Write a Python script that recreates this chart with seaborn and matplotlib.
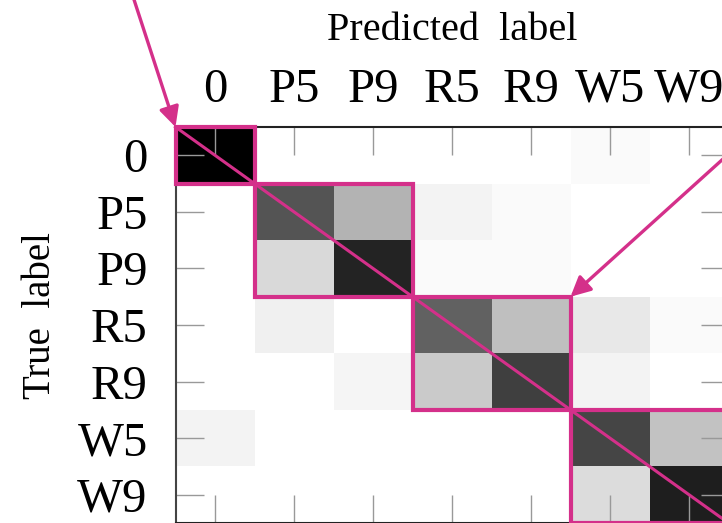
import numpy as np
import pandas as pd
import matplotlib
matplotlib.use("Agg")
import matplotlib.pyplot as plt
import seaborn as sns
from matplotlib.patches import Rectangle

plt.rcParams['font.family'] = ['Liberation Serif', 'DejaVu Serif']

labels = ['0', 'P5', 'P9', 'R5', 'R9', 'W5', 'W9']
row_0  = [1.00, 0.00, 0.00, 0.00, 0.00, 0.02, 0.00]
row_P5 = [0.00, 0.67, 0.30, 0.05, 0.02, 0.00, 0.00]
row_P9 = [0.00, 0.15, 0.86, 0.02, 0.02, 0.00, 0.00]
row_R5 = [0.00, 0.06, 0.00, 0.62, 0.25, 0.09, 0.02]
row_R9 = [0.00, 0.00, 0.04, 0.21, 0.75, 0.05, 0.00]
row_W5 = [0.05, 0.00, 0.00, 0.00, 0.00, 0.73, 0.24]
row_W9 = [0.00, 0.00, 0.00, 0.00, 0.00, 0.14, 0.88]
groups = [(0, 1), (1, 3), (3, 5), (5, 7)]

cm = pd.DataFrame([row_0, row_P5, row_P9, row_R5, row_R9, row_W5, row_W9],
                  index=labels, columns=labels)

pink = '#D4308A'

fig = plt.figure(figsize=(7.22, 5.23), dpi=100)
ax = fig.add_axes([175.5 / 722, 0.0, 553 / 722, 396 / 523])
sns.heatmap(cm, cmap='gray_r', vmin=0, vmax=1, cbar=False, ax=ax)

for name, s in ax.spines.items():
    s.set_visible(True)
    s.set_color('#222222')
    s.set_linewidth(1.5)
ax.spines['left'].set_color('#444444')

ax.xaxis.tick_top()
ax.xaxis.set_label_position('top')
ax.tick_params(axis='both', which='both', direction='in', length=20,
               width=1.0, color='#999999', top=True, bottom=True,
               left=True, right=True, labeltop=True, labelbottom=False,
               labelsize=35)
ax.tick_params(axis='x', pad=11)
ax.tick_params(axis='y', pad=20)
for t in ax.get_yticklabels():
    t.set_rotation(0)
    t.set_va('center_baseline')
for t in ax.get_xticklabels():
    t.set_rotation(0)

ax.set_xlabel('Predicted\u2002label', fontsize=29, labelpad=20)
ax.set_ylabel('True\u2002label', fontsize=28, va='center')
ax.yaxis.set_label_coords(-0.244, 0.523)

# block boxes
n = len(labels)
for a, b in groups:
    ax.add_patch(Rectangle((a, a), b - a, b - a, fill=False, edgecolor=pink,
                           lw=3.0, zorder=10, clip_on=False))
ax.plot([0, n], [0, n], color=pink, lw=2.2, zorder=11, clip_on=False)

ax.annotate('', xy=(0, 0), xytext=(-0.56, -2.4), xycoords='data',
            arrowprops=dict(arrowstyle='-|>', color=pink, lw=2.4,
                            mutation_scale=30, shrinkA=0, shrinkB=0),
            annotation_clip=False, zorder=12)
ax.annotate('', xy=(5, 3), xytext=(7.3, 0.1), xycoords='data',
            arrowprops=dict(arrowstyle='-|>', color=pink, lw=2.4,
                            mutation_scale=30, shrinkA=0, shrinkB=0),
            annotation_clip=False, zorder=12)

fig.savefig('out.png', dpi=100)
